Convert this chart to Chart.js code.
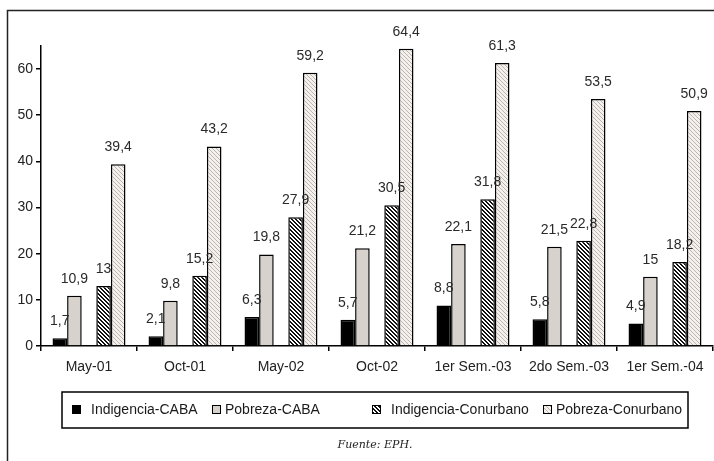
<!DOCTYPE html>
<html>
<head>
<meta charset="utf-8">
<script src="https://cdn.jsdelivr.net/npm/chart.js@4.4.0/dist/chart.umd.min.js"></script>
<style>
  html, body { margin: 0; padding: 0; background: #fff; }
  canvas { display: block; }
</style>
</head>
<body>
<canvas id="chart" width="714" height="461"></canvas>
<script>
// Data
const periods = ['May-01', 'Oct-01', 'May-02', 'Oct-02', '1er Sem.-03', '2do Sem.-03', '1er Sem.-04'];
const indigenciaCaba = [1.7, 2.1, 6.3, 5.7, 8.8, 5.8, 4.9];
const pobrezaCaba = [10.9, 9.8, 19.8, 21.2, 22.1, 21.5, 15];
const indigenciaConurbano = [13, 15.2, 27.9, 30.5, 31.8, 22.8, 18.2];
const pobrezaConurbano = [39.4, 43.2, 59.2, 64.4, 61.3, 53.5, 50.9];
const yTickValues = [0, 10, 20, 30, 40, 50, 60];
const yMax = 65;
const sourceNote = 'Fuente: EPH.';

const textFont = '14px "Liberation Sans", Arial, sans-serif';

// Hatch fills
function makePattern(size, bg, fg, thick) {
    const c = document.createElement('canvas');
    c.width = size;
    c.height = size;
    const g = c.getContext('2d');
    g.fillStyle = bg;
    g.fillRect(0, 0, size, size);
    g.fillStyle = fg;
    for (let y = 0; y < size; y++) {
        for (let x = 0; x < size; x++) {
            if ((x - y + size * 2) % size < thick) g.fillRect(x, y, 1, 1);
        }
    }
    return document.getElementById('chart').getContext('2d').createPattern(c, 'repeat');
}

const darkHatch = makePattern(4, '#ffffff', '#111111', 2);
const lightHatch = makePattern(4, '#f3f0ed', '#bdb6af', 1);

const series = [
    { label: 'Indigencia-CABA', data: indigenciaCaba, fill: '#000000' },
    { label: 'Pobreza-CABA', data: pobrezaCaba, fill: '#d8d2cd' },
    { label: '', data: periods.map(() => null), fill: 'transparent' }, // spacer slot
    { label: 'Indigencia-Conurbano', data: indigenciaConurbano, fill: darkHatch },
    { label: 'Pobreza-Conurbano', data: pobrezaConurbano, fill: lightHatch }
];

// Value labels above bars
const valueLabels = {
    id: 'valueLabels',
    afterDatasetsDraw(chart) {
        const ctx = chart.ctx;
        ctx.save();
        ctx.font = textFont;
        ctx.fillStyle = '#2a2a2a';
        ctx.textAlign = 'center';
        ctx.textBaseline = 'middle';
        chart.data.datasets.forEach((ds, i) => {
            const meta = chart.getDatasetMeta(i);
            meta.data.forEach((bar, j) => {
                const v = ds.data[j];
                if (v === null) return;
                ctx.fillText(String(v).replace('.', ','), bar.x, bar.y - 17);
            });
        });
        ctx.restore();
    }
};

// Frame, legend box and source note
const decorations = {
    id: 'decorations',
    afterDraw(chart) {
        const ctx = chart.ctx;
        ctx.save();
        ctx.strokeStyle = '#222';
        ctx.lineWidth = 1.5;
        ctx.strokeRect(7.5, 10.5, 740, 480);

        ctx.strokeStyle = '#000';
        ctx.strokeRect(62, 392, 626, 36);

        const slots = [
            { box: 72, text: 91 },
            { box: 212, text: 225 },
            { box: 372, text: 391 },
            { box: 543, text: 556 }
        ];
        const shown = series.filter(s => s.label);
        ctx.font = textFont;
        ctx.textBaseline = 'middle';
        ctx.textAlign = 'left';
        shown.forEach((s, i) => {
            const pos = slots[i];
            ctx.fillStyle = s.fill;
            ctx.fillRect(pos.box, 405, 9, 9);
            ctx.lineWidth = 1;
            ctx.strokeStyle = '#000';
            ctx.strokeRect(pos.box + 0.5, 405.5, 8, 8);
            ctx.fillStyle = '#1a1a1a';
            ctx.fillText(s.label, pos.text, 410);
        });

        ctx.font = 'italic 11px "DejaVu Serif", "Liberation Serif", serif';
        ctx.textAlign = 'center';
        ctx.fillStyle = '#222';
        ctx.fillText(sourceNote, 375, 445);
        ctx.restore();
    }
};

Chart.defaults.font.family = '"Liberation Sans", Arial, sans-serif';
Chart.defaults.font.size = 14;
Chart.defaults.color = '#222';

new Chart(document.getElementById('chart').getContext('2d'), {
    type: 'bar',
    data: {
        labels: periods,
        datasets: series.map(s => ({
            label: s.label,
            data: s.data,
            backgroundColor: s.fill,
            borderColor: '#000',
            borderWidth: 1.5,
            borderSkipped: 'bottom',
            categoryPercentage: 0.76,
            barPercentage: 1
        }))
    },
    options: {
        responsive: false,
        animation: false,
        layout: { padding: { top: 46, right: 1, left: 0, bottom: 0 } },
        plugins: {
            legend: { display: false },
            tooltip: { enabled: false }
        },
        scales: {
            x: {
                grid: {
                    offset: true,
                    drawOnChartArea: false,
                    drawTicks: true,
                    tickLength: 5,
                    color: '#000',
                    lineWidth: 1.5
                },
                border: { display: true, color: '#000', width: 1.5 },
                ticks: { padding: 8, maxRotation: 0, autoSkip: false },
                afterFit(scale) { scale.height = 115; }
            },
            y: {
                min: 0,
                max: yMax,
                grid: {
                    drawOnChartArea: false,
                    drawTicks: true,
                    tickLength: 5,
                    color: '#000',
                    lineWidth: 1.5
                },
                border: { display: true, color: '#000', width: 1.5 },
                ticks: { stepSize: 10, padding: 3 },
                afterBuildTicks(scale) {
                    scale.ticks = yTickValues.map(v => ({ value: v }));
                },
                afterFit(scale) { scale.width = 41; }
            }
        }
    },
    plugins: [valueLabels, decorations]
});
</script>
</body>
</html>
